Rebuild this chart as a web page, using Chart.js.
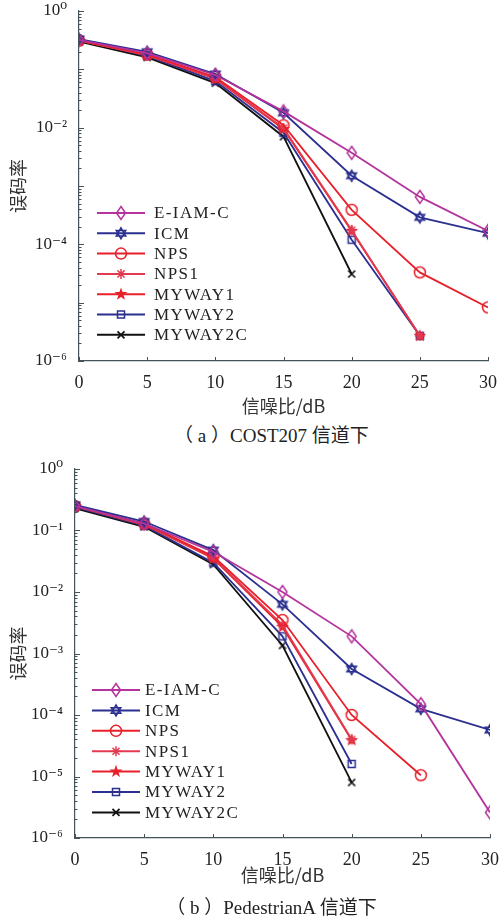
<!DOCTYPE html>
<html>
<head>
<meta charset="utf-8">
<script src="https://cdn.jsdelivr.net/npm/chart.js@4.4.0/dist/chart.umd.min.js"></script>
<style>
body { margin: 0; background: #fff; width: 499px; height: 916px; position: relative; overflow: hidden; }
.box { position: absolute; left: 0; width: 499px; }
.cap { position: absolute; left: 22px; width: 499px; text-align: center; font: 19px "Liberation Serif", "Noto Sans CJK SC", serif; color: #222; white-space: pre; }
</style>
</head>
<body>
<div class="box" style="top:0;height:420px"><canvas id="c1"></canvas></div>
<div class="cap" style="top:420px">（ a ）COST207 信道下</div>
<div class="box" style="top:455px;height:440px"><canvas id="c2"></canvas></div>
<div class="cap" style="top:892px">（ b ）PedestrianA 信道下</div>
<script>
// SNR points (dB)
var snr = [0, 5, 10, 15, 20, 25, 30];
var names = ['E-IAM-C', 'ICM', 'NPS', 'NPS1', 'MYWAY1', 'MYWAY2', 'MYWAY2C'];

// (a) COST207 channel, BER
var cost_eiamc  = [0.32, 0.19, 0.080, 0.019, 0.0037, 6.5e-4, 1.7e-4];
var cost_icm    = [0.33, 0.20, 0.083, 0.018, 0.0015, 2.9e-4, 1.55e-4];
var cost_nps    = [0.31, 0.18, 0.074, 0.011, 3.9e-4, 3.3e-5, 8.3e-6];
var cost_nps1   = [0.31, 0.175, 0.070, 0.0098, 1.75e-4, 2.7e-6, null];
var cost_myway1 = [0.31, 0.175, 0.069, 0.0095, 1.7e-4, 2.7e-6, null];
var cost_myway2 = [0.32, 0.17, 0.063, 0.0082, 1.2e-4, 2.7e-6, null];
var cost_myway2c = [0.30, 0.16, 0.058, 0.0070, 3.1e-5, null, null];

// (b) PedestrianA channel, BER
var ped_eiamc  = [0.25, 0.13, 0.045, 0.010, 0.0019, 1.5e-4, 2.6e-6];
var ped_icm    = [0.26, 0.14, 0.048, 0.0063, 5.6e-4, 1.26e-4, 5.7e-5];
var ped_nps    = [0.25, 0.13, 0.038, 0.0035, 1.0e-4, 1.05e-5, null];
var ped_nps1   = [0.25, 0.125, 0.036, 0.0029, 4.0e-5, null, null];
var ped_myway1 = [0.25, 0.125, 0.035, 0.0027, 3.9e-5, null, null];
var ped_myway2 = [0.24, 0.12, 0.030, 0.0019, 1.6e-5, null, null];
var ped_myway2c = [0.23, 0.115, 0.028, 0.00135, 8e-6, null, null];

// tick labels
var xTicks = [0, 5, 10, 15, 20, 25, 30];
var yMajorA = [1, 1e-2, 1e-4, 1e-6];
var yMajorB = [1, 1e-1, 1e-2, 1e-3, 1e-4, 1e-5, 1e-6];

var styles = [
    {shape: 'diamond', color: '#B4339C'},
    {shape: 'hexagram', color: '#2B2F8F'},
    {shape: 'circle', color: '#E8202A'},
    {shape: 'asterisk', color: '#E23A50'},
    {shape: 'star', color: '#E8202A'},
    {shape: 'square', color: '#2B2F8F'},
    {shape: 'x', color: '#111111'}
];

var serif = '"Liberation Serif", "DejaVu Serif", serif';
var cjk = '"Noto Sans CJK SC", sans-serif';

function drawMarker(ctx, shape, cx, cy, color) {
    ctx.save();
    ctx.strokeStyle = color;
    ctx.fillStyle = color;
    ctx.lineWidth = 1.5;
    ctx.beginPath();
    if (shape === 'diamond') {
        ctx.moveTo(cx, cy - 6.5); ctx.lineTo(cx + 4.5, cy); ctx.lineTo(cx, cy + 6.5); ctx.lineTo(cx - 4.5, cy); ctx.closePath();
        ctx.stroke();
    } else if (shape === 'hexagram') {
        var r = 5.5;
        for (var t = 0; t < 2; t++) {
            for (var k = 0; k < 3; k++) {
                var a = -Math.PI / 2 + t * Math.PI + k * 2 * Math.PI / 3;
                var px = cx + r * Math.cos(a), py = cy + r * Math.sin(a);
                if (k === 0) ctx.moveTo(px, py); else ctx.lineTo(px, py);
            }
            ctx.closePath();
        }
        ctx.stroke();
    } else if (shape === 'circle') {
        ctx.arc(cx, cy, 5.5, 0, Math.PI * 2);
        ctx.stroke();
    } else if (shape === 'asterisk') {
        for (var k = 0; k < 4; k++) {
            var a = k * Math.PI / 4;
            ctx.moveTo(cx - 5 * Math.cos(a), cy - 5 * Math.sin(a));
            ctx.lineTo(cx + 5 * Math.cos(a), cy + 5 * Math.sin(a));
        }
        ctx.stroke();
    } else if (shape === 'star') {
        for (var k = 0; k < 10; k++) {
            var a = -Math.PI / 2 + k * Math.PI / 5;
            var rr = k % 2 ? 2.7 : 6.8;
            var px = cx + rr * Math.cos(a), py = cy + rr * Math.sin(a);
            if (k === 0) ctx.moveTo(px, py); else ctx.lineTo(px, py);
        }
        ctx.closePath();
        ctx.fill();
    } else if (shape === 'square') {
        ctx.rect(cx - 3.5, cy - 3.5, 7, 7);
        ctx.stroke();
    } else if (shape === 'x') {
        ctx.lineWidth = 1.7;
        ctx.moveTo(cx - 3.5, cy - 3.5); ctx.lineTo(cx + 3.5, cy + 3.5);
        ctx.moveTo(cx + 3.5, cy - 3.5); ctx.lineTo(cx - 3.5, cy + 3.5);
        ctx.stroke();
    }
    ctx.restore();
}

function makeIcon(s) {
    var c = document.createElement('canvas');
    c.width = 18; c.height = 18;
    drawMarker(c.getContext('2d'), s.shape, 9, 9, s.color);
    return c;
}

function toPoints(vals) {
    var pts = [];
    snr.forEach(function(x, i) {
        if (vals[i] != null) pts.push({x: x, y: vals[i]});
    });
    return pts;
}

function buildDatasets(series) {
    return series.map(function(vals, i) {
        var icon = makeIcon(styles[i]);
        return {
            label: names[i],
            data: toPoints(vals),
            borderColor: styles[i].color,
            backgroundColor: styles[i].color,
            borderWidth: 1.8,
            pointStyle: icon,
            pointRadius: 6,
            pointHoverRadius: 6,
            tension: 0,
            fill: false
        };
    });
}

var sup = {'0': '⁰', '1': '¹', '2': '²', '3': '³', '4': '⁴', '5': '⁵', '6': '⁶', '-': '⁻'};
function powLabel(v) {
    var e = String(Math.round(Math.log10(v)));
    return '10' + e.split('').map(function(ch) { return sup[ch]; }).join('');
}

// inward tick marks + legend inside the plot
var decorPlugin = {
    id: 'decor',
    afterDraw: function(chart, args, opts) {
        var ctx = chart.ctx;
        var xs = chart.scales.x, ys = chart.scales.y;
        var area = chart.chartArea;
        ctx.save();
        ctx.strokeStyle = '#44525a';
        ctx.lineWidth = 1;
        ctx.beginPath();
        for (var e = -6; e < 0; e++) {
            for (var k = 1; k <= 9; k++) {
                var py = Math.round(ys.getPixelForValue(k * Math.pow(10, e))) + 0.5;
                var len = k === 1 ? 5 : 2.5;
                ctx.moveTo(area.left, py); ctx.lineTo(area.left + len, py);
            }
        }
        var ptop = Math.round(ys.getPixelForValue(1)) + 0.5;
        ctx.moveTo(area.left, ptop); ctx.lineTo(area.left + 5, ptop);
        xTicks.forEach(function(v) {
            var px = Math.round(xs.getPixelForValue(v)) + 0.5;
            ctx.moveTo(px, area.bottom); ctx.lineTo(px, area.bottom - 4);
        });
        ctx.stroke();

        // legend
        var lg = opts;
        ctx.font = '17px ' + serif;
        ctx.letterSpacing = '1.4px';
        ctx.textBaseline = 'middle';
        chart.data.datasets.forEach(function(ds, i) {
            var y = lg.y + i * lg.dy;
            ctx.strokeStyle = styles[i].color;
            ctx.lineWidth = 2;
            ctx.beginPath();
            ctx.moveTo(lg.x, y); ctx.lineTo(lg.x + lg.len, y);
            ctx.stroke();
            drawMarker(ctx, styles[i].shape, lg.x + lg.len / 2, y, styles[i].color);
            ctx.fillStyle = '#222';
            ctx.fillText(ds.label, lg.x + lg.len + lg.gap, y + 1);
        });
        ctx.restore();
    }
};

function generateChart(id, series, majors, cfg) {
    var ctx = document.getElementById(id).getContext('2d');
    return new Chart(ctx, {
        type: 'line',
        data: {datasets: buildDatasets(series)},
        options: {
            responsive: true,
            maintainAspectRatio: false,
            animation: false,
            events: [],
            layout: {padding: cfg.pad},
            plugins: {
                legend: {display: false},
                tooltip: {enabled: false},
                decor: cfg.legend
            },
            scales: {
                x: {
                    type: 'linear',
                    min: 0,
                    max: 30,
                    afterBuildTicks: function(scale) {
                        scale.ticks = xTicks.map(function(v) { return {value: v}; });
                    },
                    afterFit: function(scale) {
                        scale.height = cfg.xh;
                        scale.paddingLeft = 0; scale.paddingRight = 0;
                    },
                    grid: {display: true, drawOnChartArea: false, drawTicks: false},
                    border: {display: true, color: '#44525a', width: 1.2},
                    ticks: {color: '#222', padding: 11, font: {size: 18, family: serif}, maxRotation: 0},
                    title: {display: true, text: '信噪比/dB', color: '#333', font: {size: 18, family: cjk}, padding: {top: 0, bottom: cfg.tpad}}
                },
                y: {
                    type: 'logarithmic',
                    min: 1e-6,
                    max: 1,
                    afterBuildTicks: function(scale) {
                        scale.ticks = majors.map(function(v) { return {value: v}; });
                    },
                    afterFit: function(scale) {
                        scale.width = cfg.yw;
                        scale.paddingTop = 0; scale.paddingBottom = 0;
                    },
                    grid: {display: true, drawOnChartArea: false, drawTicks: false},
                    border: {display: true, color: '#44525a', width: 1.2},
                    ticks: {
                        color: '#222',
                        padding: 12,
                        font: {size: 17, family: serif},
                        callback: function(v) { return powLabel(v); }
                    },
                    title: {display: true, text: '误码率', color: '#333', font: {size: 18, family: cjk}, padding: {top: 7, bottom: 0}}
                }
            }
        },
        plugins: [decorPlugin]
    });
}

generateChart('c1',
    [cost_eiamc, cost_icm, cost_nps, cost_nps1, cost_myway1, cost_myway2, cost_myway2c],
    yMajorA,
    {xh: 59, yw: 79, tpad: 3, pad: {left: 0, right: 11, top: 11, bottom: 0},
     legend: {x: 97, y: 213, dy: 20.3, len: 48, gap: 9}});

generateChart('c2',
    [ped_eiamc, ped_icm, ped_nps, ped_nps1, ped_myway1, ped_myway2, ped_myway2c],
    yMajorB,
    {xh: 57, yw: 75, tpad: 9, pad: {left: 0, right: 9, top: 14, bottom: 0},
     legend: {x: 92, y: 235, dy: 20.4, len: 48, gap: 5}});
</script>
</body>
</html>
